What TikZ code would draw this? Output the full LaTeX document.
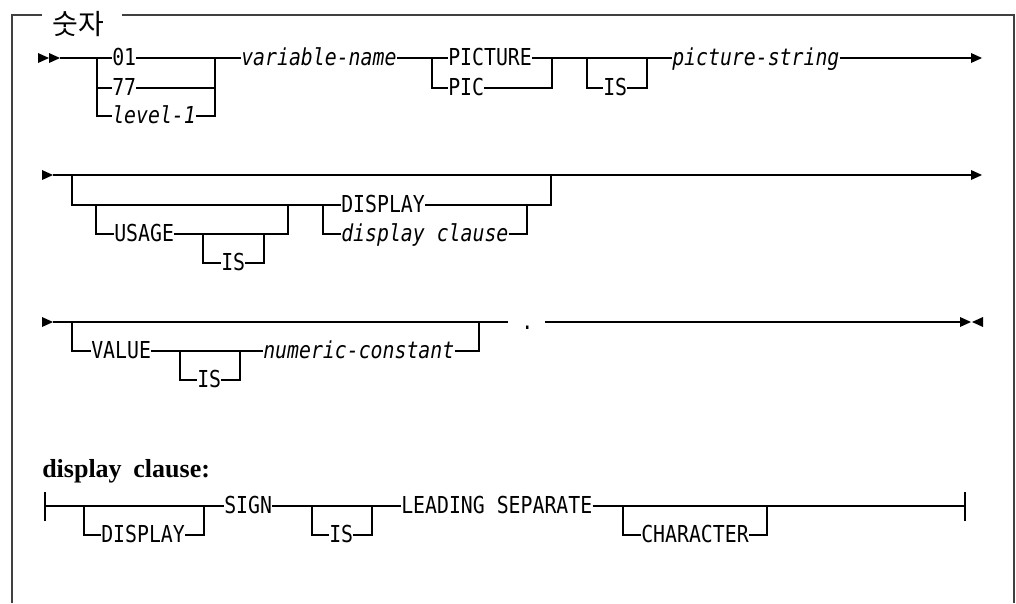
\documentclass[tikz,border=0pt]{standalone}
\usepackage{fontspec}
\newfontfamily\synfont[FakeStretch=0.85]{DejaVu Sans Mono}
\newfontfamily\hangul{Noto Sans CJK KR}
\newfontfamily\headfont{Liberation Serif}
\usetikzlibrary{calc}

\tikzset{
	kw/.style = {inner sep = 0, anchor = west, text height = 10.5pt, text depth = 0pt,
		font = \synfont\fontsize{17.5}{19}\selectfont},
	var/.style = {kw, font = \synfont\itshape\fontsize{17.5}{19}\selectfont},
	rail/.style = {line width = 0.8pt},
	frame/.style = {line width = 0.9pt, black!75},
}

% filled rail tips, x is the back of the tip
\newcommand{\railright}[2]{\fill (#1,#2-5) -- ++(11,5) -- ++(-11,5) -- cycle;}
\newcommand{\railleft}[2]{\fill (#1,#2-5) -- ++(-11,5) -- ++(11,5) -- cycle;}

\begin{document}
\begin{tikzpicture}[x = 0.75pt, y = -0.75pt]
		\useasboundingbox (0,0) rectangle (1016,603);
		
		\begin{scope}
			\node [font = \hangul\fontsize{21}{24}\selectfont, inner sep = 0] (title) at (78,24) {숫자};
			\coordinate (fl) at (42,15);
			\coordinate (fr) at (122,15);
			\draw [frame] (12,603) -- (12,15) -- (fl);
			\draw [frame] (fr) -- (1014,15) -- (1014,603);
		\end{scope}
		
		% first line
		\begin{scope}
			\railright{38}{58}
			\railright{49}{58}
			\coordinate (s1) at (60,58);
			\coordinate (a1) at (97,58);
			\coordinate (b1) at (215,58);
			\coordinate (a2) at (432,58);
			\coordinate (b2) at (552,58);
			\coordinate (a3) at (587,58);
			\coordinate (b3) at (647,58);
			\coordinate (e1) at (971,58);
			
			\node [kw] (n01) at (112,58) {01};
			\node [kw] (n77) at (112,88) {77};
			\node [var] (lev) at (112,116) {level-1};
			\node [var] (vname) at (241,58) {variable-name};
			\node [kw] (pict) at (448,58) {PICTURE};
			\node [kw] (pic) at (448,88) {PIC};
			\node [kw] (is1) at (603,88) {IS};
			\node [var] (pstr) at (672,58) {picture-string};
			
			\draw [rail] (s1) -- (n01) -- (b1) -- (vname) -- (a2) -- (pict) -- (b2) -- (a3) -- (b3) -- (pstr) -- (e1);
			\draw [rail] (a1) |- (n77);
			\draw [rail] (a1) |- (lev);
			\draw [rail] (n77) -| (b1);
			\draw [rail] (lev) -| (b1);
			\draw [rail] (a2) |- (pic);
			\draw [rail] (pic) -| (b2);
			\draw [rail] (a3) |- (is1);
			\draw [rail] (is1) -| (b3);
			\railright{971}{58}
		\end{scope}
		
		% second line
		\begin{scope}
			\railright{42}{175}
			\coordinate (s2) at (53,175);
			\coordinate (e2) at (971,175);
			\coordinate (a4) at (72,175);
			\coordinate (b4) at (551,175);
			\coordinate (a5) at (96,205);
			\coordinate (b5) at (288,205);
			\coordinate (a6) at (323,205);
			\coordinate (b6) at (527,205);
			\coordinate (a7) at (203,234);
			\coordinate (b7) at (264,234);
			
			\node [kw] (usage) at (114,234) {USAGE};
			\node [kw] (is2) at (221,263) {IS};
			\node [kw] (disp) at (341,205) {DISPLAY};
			\node [var] (dcl) at (341,234) {display clause};
			
			\draw [rail] (s2) -- (e2);
			\draw [rail] (a4) |- (a5) -- (b5) -- (a6) -- (disp) -- (b6) -| (b4);
			\draw [rail] (a5) |- (usage) -- (a7) -- (b7) -| (b5);
			\draw [rail] (a7) |- (is2) -| (b7);
			\draw [rail] (a6) |- (dcl) -| (b6);
			\railright{971}{175}
		\end{scope}
		
		% third line
		\begin{scope}
			\railright{42}{322}
			\coordinate (s3) at (53,322);
			\coordinate (a8) at (72,322);
			\coordinate (b8) at (479,322);
			\coordinate (c8) at (508,322);
			\coordinate (a9) at (180,351);
			\coordinate (b9) at (240,351);
			\coordinate (d8) at (545,322);
			\coordinate (d9) at (569,322);
			\coordinate (e3) at (960,322);
			
			\node [kw] (val) at (91,351) {VALUE};
			\node [kw] (is3) at (197,380) {IS};
			\node [var] (nc) at (263,351) {numeric-constant};
			\node [kw] (dot) at (521,322) {.};
			
			\draw [rail] (s3) -- (c8);
			\draw [rail] (a8) |- (val) -- (a9) -- (b9) -- (nc) -| (b8);
			\draw [rail] (a9) |- (is3) -| (b9);
			\draw [line width = 1.6pt] (d8) -- (d9);
			\draw [rail] (d9) -- (e3);
			\railright{960}{322}
			\railleft{983}{322}
		\end{scope}
		
		% display clause
		\begin{scope}
			\node [anchor = base west, inner sep = 0, font = \headfont\bfseries\fontsize{19.5}{22}\selectfont] (head) at (42,477) {display\hspace{0.45em}clause:};
			
			\coordinate (s4) at (45,506);
			\coordinate (a10) at (84,506);
			\coordinate (b10) at (204,506);
			\coordinate (a11) at (312,506);
			\coordinate (b11) at (372,506);
			\coordinate (a12) at (623,506);
			\coordinate (b12) at (767,506);
			\coordinate (e4) at (965,506);
			
			\node [kw] (dsp2) at (101,535) {DISPLAY};
			\node [kw] (sign) at (224,506) {SIGN};
			\node [kw] (is4) at (329,535) {IS};
			\node [kw] (lead) at (401,506) {LEADING SEPARATE};
			\node [kw] (chr) at (641,535) {CHARACTER};
			
			\draw [rail] (45,492) -- (45,521);
			\draw [rail] (965,492) -- (965,521);
			\draw [rail] (s4) -- (b10) -- (sign) -- (a11) -- (b11) -- (lead) -- (a12) -- (e4);
			\draw [rail] (a10) |- (dsp2) -| (b10);
			\draw [rail] (a11) |- (is4) -| (b11);
			\draw [rail] (a12) |- (chr) -| (b12);
			\draw [line width = 1.3pt] (55,506) -- (60,506);
			\draw [line width = 1.3pt] (773,506) -- (796,506);
		\end{scope}
	\end{tikzpicture}
\end{document}
